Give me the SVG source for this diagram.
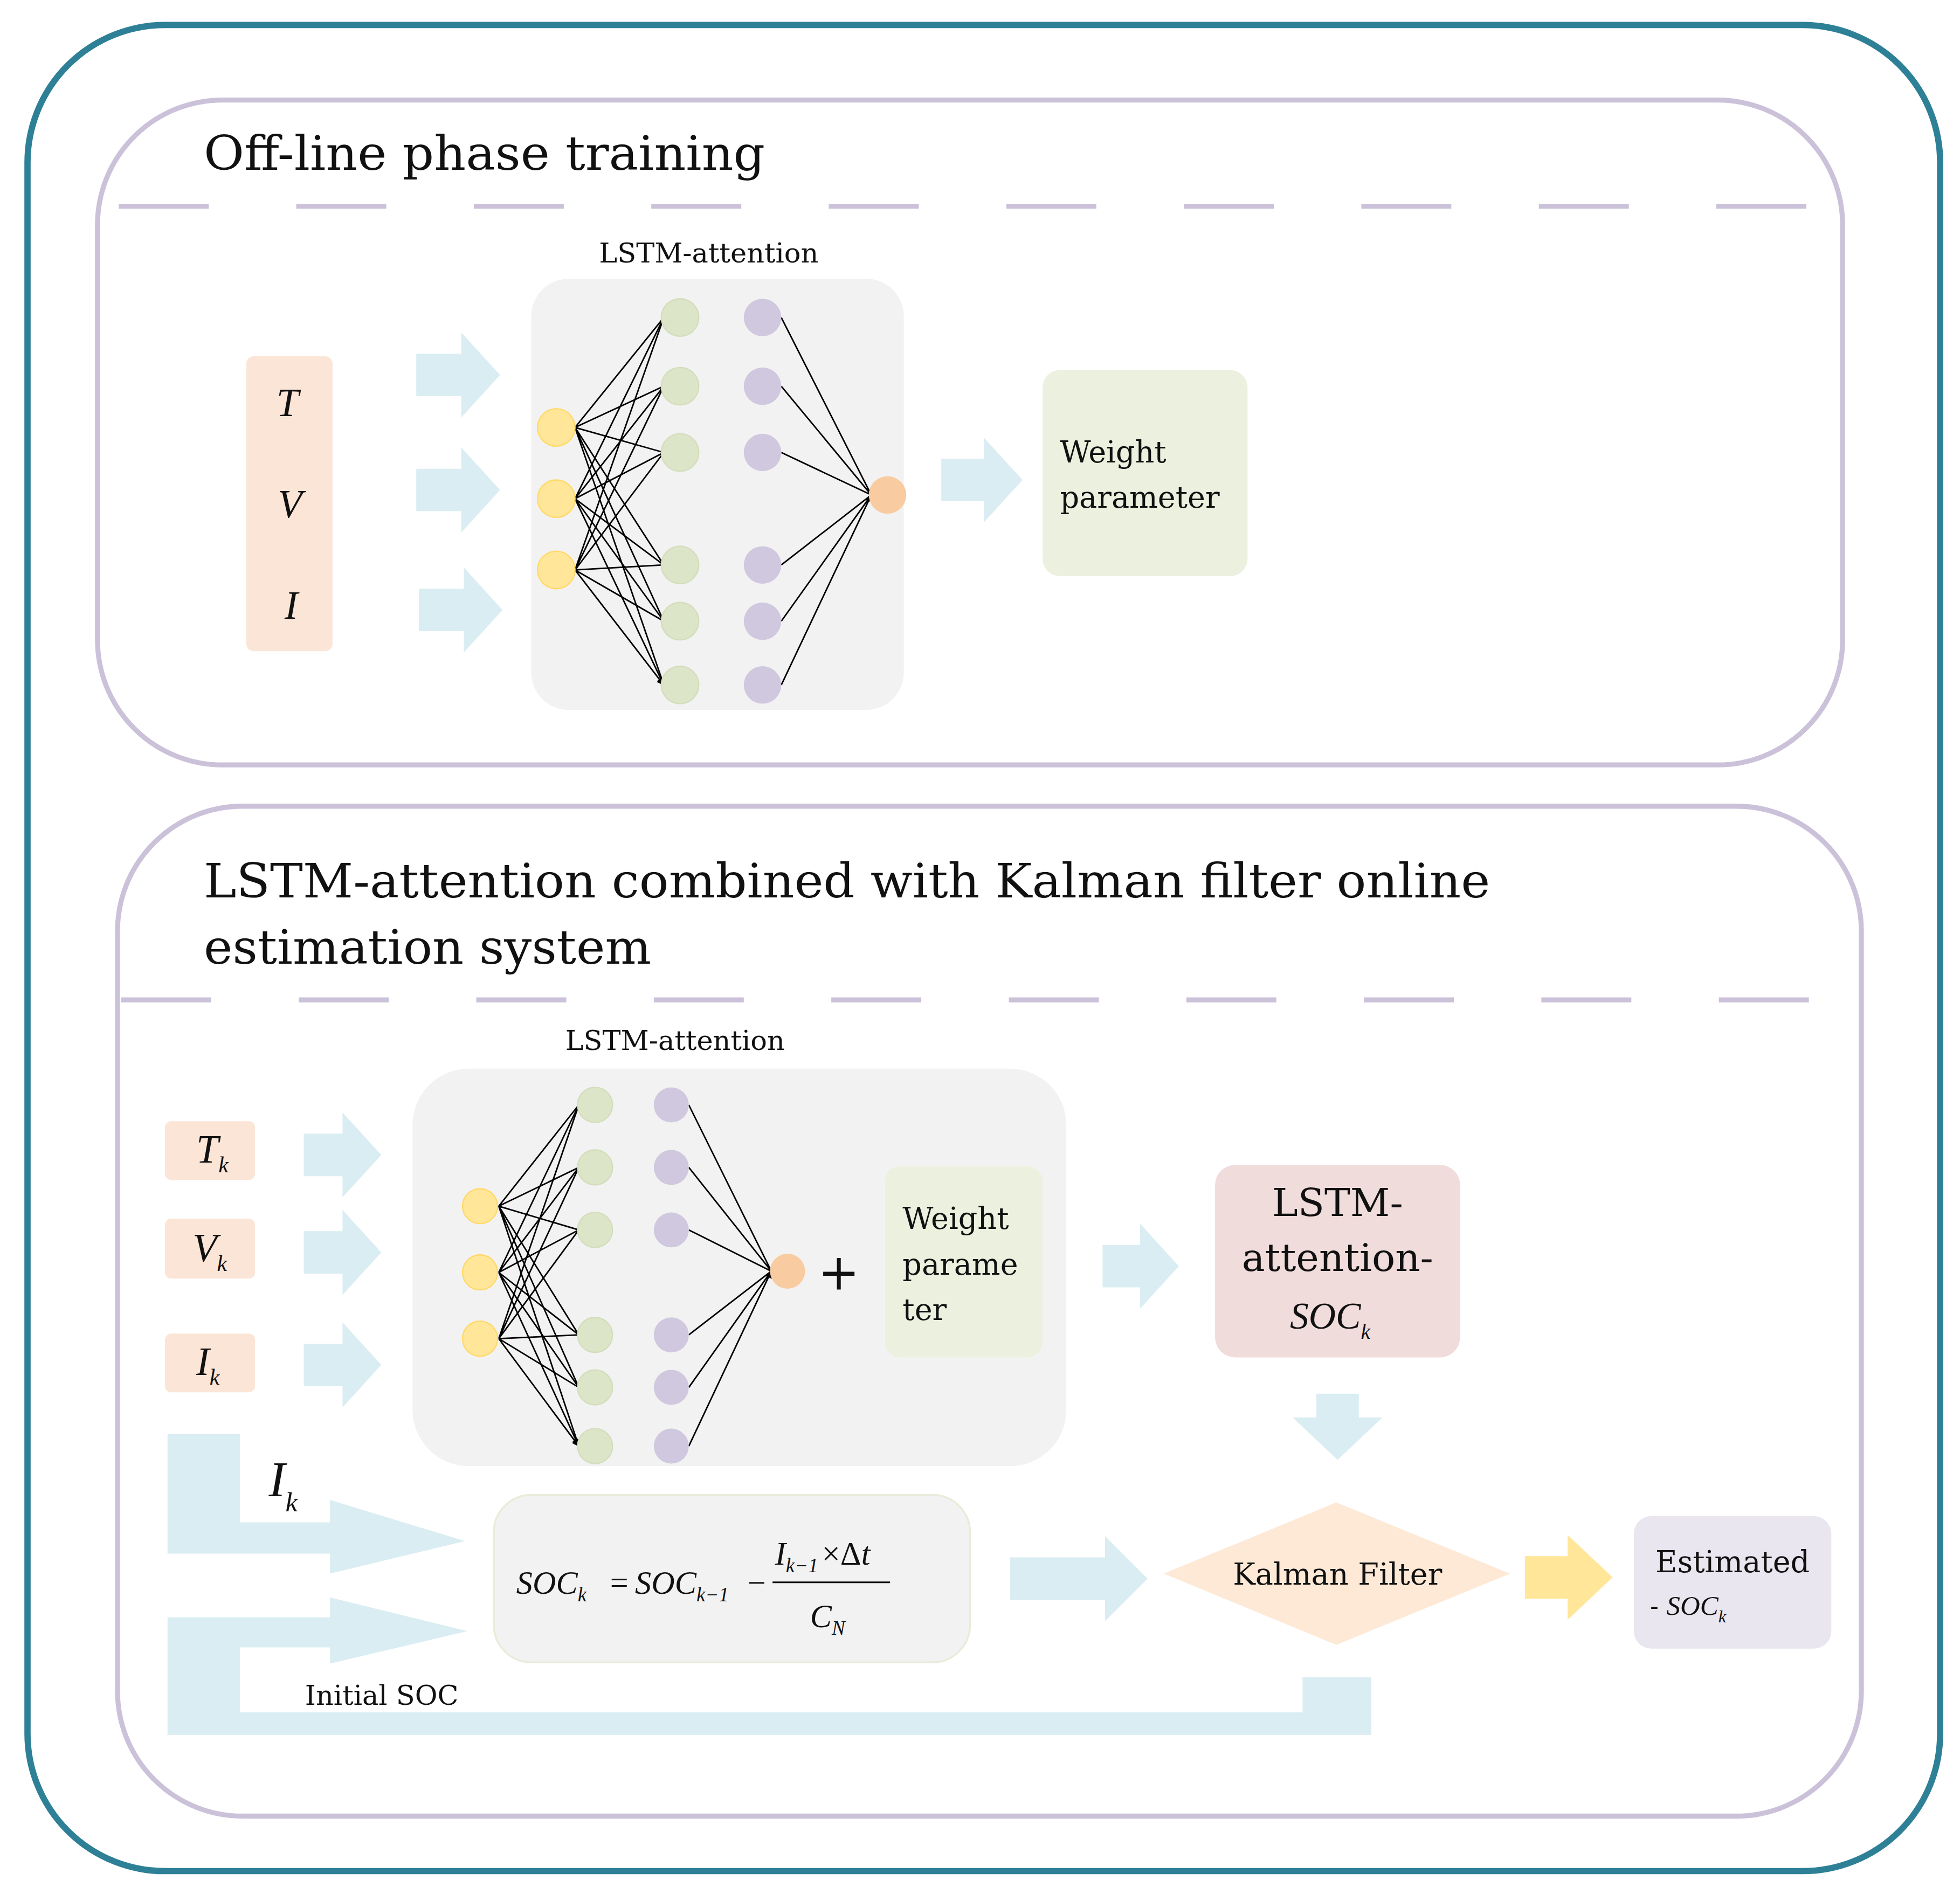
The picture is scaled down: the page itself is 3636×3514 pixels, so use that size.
<svg xmlns="http://www.w3.org/2000/svg" width="3636" height="3514" viewBox="0 0 3636 3514">
<defs>
<marker id="ah" viewBox="0 0 10 10" refX="9" refY="5" markerWidth="5" markerHeight="5" orient="auto"><path d="M0,0L10,5L0,10z" fill="#000"/></marker>
<style>
.pn{fill:none;stroke:#cbc2da;stroke-width:4}
.ds{fill:none;stroke:#cbc2da;stroke-width:4;stroke-dasharray:72,70}
.ba{fill:#daedf2}
.t{font-family:"DejaVu Serif","Liberation Serif",serif;fill:#111}
.i{font-family:"Liberation Serif",serif;font-style:italic;fill:#111}
.y{fill:#ffe699;stroke:#ffd966;stroke-width:1}
.g{fill:#dde5c8;stroke:#d3ddbb;stroke-width:1}
.p{fill:#d0c8de}
.o{fill:#f8cba0}
.ln{stroke:#000;stroke-width:1.2;fill:none}
</style>
</defs>
<rect width="3636" height="3514" fill="#fff"/>
<g transform="scale(2.319)">
<rect id="outer" x="22" y="20" width="1530" height="1477" rx="110" fill="none" stroke="#2e8096" stroke-width="5"/>
<g id="top-panel">
<rect class="pn" x="78" y="80" width="1396" height="532" rx="100"/>
<path class="ds" d="M95,165H1465"/>
<text class="t" x="163" y="136" font-size="38" textLength="449" lengthAdjust="spacingAndGlyphs">Off-line phase training</text>
<text class="t" x="567" y="210" font-size="22" text-anchor="middle">LSTM-attention</text>
<rect x="425" y="223" width="298" height="345" rx="30" fill="#f2f2f2"/>
</g>
<g id="top-inputs">
<rect x="197" y="285" width="69" height="236" rx="6" fill="#fbe5d6"/>
<text class="i" x="230" y="333" font-size="32" text-anchor="middle">T</text>
<text class="i" x="232" y="414" font-size="32" text-anchor="middle">V</text>
<text class="i" x="233" y="495" font-size="32" text-anchor="middle">I</text>
</g>
<g id="top-arrows">
<path class="ba" d="M333,283H369V266L400,300L369,334V317H333z"/>
<path class="ba" d="M333,375H369V358L400,392L369,426V409H333z"/>
<path class="ba" d="M335,471H371V454L402,488L371,522V505H335z"/>
<path class="ba" d="M753,367H787V350L818,384L787,418V401H753z"/>
</g>
<g id="top-net">
<g class="ln">
<path marker-end="url(#ah)" d="M460,342L531,254M460,342L531,309M460,342L531,362M460,342L531,452M460,342L531,497M460,342L531,548"/>
<path marker-end="url(#ah)" d="M460,399L531,254M460,399L531,309M460,399L531,362M460,399L531,452M460,399L531,497M460,399L531,548"/>
<path marker-end="url(#ah)" d="M460,456L531,254M460,456L531,309M460,456L531,362M460,456L531,452M460,456L531,497M460,456L531,548"/>
<path marker-end="url(#ah)" d="M625,254L697,396M625,309L697,396M625,362L697,396M625,452L697,396M625,497L697,396M625,548L697,396"/>
</g>
<circle class="y" cx="445" cy="342" r="15"/><circle class="y" cx="445" cy="399" r="15"/><circle class="y" cx="445" cy="456" r="15"/>
<circle class="g" cx="544" cy="254" r="15"/><circle class="g" cx="544" cy="309" r="15"/><circle class="g" cx="544" cy="362" r="15"/><circle class="g" cx="544" cy="452" r="15"/><circle class="g" cx="544" cy="497" r="15"/><circle class="g" cx="544" cy="548" r="15"/>
<circle class="p" cx="610" cy="254" r="15"/><circle class="p" cx="610" cy="309" r="15"/><circle class="p" cx="610" cy="362" r="15"/><circle class="p" cx="610" cy="452" r="15"/><circle class="p" cx="610" cy="497" r="15"/><circle class="p" cx="610" cy="548" r="15"/>
<circle class="o" cx="710" cy="396" r="15"/>
</g>
<g id="top-weight">
<rect x="834" y="296" width="164" height="165" rx="14" fill="#ebf1de"/>
<text class="t" x="848" y="370" font-size="24">Weight</text>
<text class="t" x="848" y="406" font-size="24">parameter</text>
</g>
<g id="bottom-panel">
<rect class="pn" x="94" y="645" width="1395" height="808" rx="100"/>
<path class="ds" d="M97,800H1472"/>
<text class="t" x="163" y="718" font-size="38" textLength="1029" lengthAdjust="spacingAndGlyphs">LSTM-attention combined with Kalman filter online</text>
<text class="t" x="163" y="771" font-size="38" textLength="358" lengthAdjust="spacingAndGlyphs">estimation system</text>
<text class="t" x="540" y="840" font-size="22" text-anchor="middle">LSTM-attention</text>
<rect x="330" y="855" width="523" height="318" rx="45" fill="#f2f2f2"/>
</g>
<g id="bottom-inputs">
<rect x="132" y="897" width="72" height="47" rx="5" fill="#fbe5d6"/>
<text class="i" x="157" y="930" font-size="32">T<tspan font-size="18" dy="8">k</tspan></text>
<rect x="132" y="975" width="72" height="48" rx="5" fill="#fbe5d6"/>
<text class="i" x="154" y="1009" font-size="32">V<tspan font-size="18" dy="8">k</tspan></text>
<rect x="132" y="1067" width="72" height="47" rx="5" fill="#fbe5d6"/>
<text class="i" x="157" y="1100" font-size="32">I<tspan font-size="18" dy="8">k</tspan></text>
</g>
<g id="bottom-arrows">
<path class="ba" d="M243,907H274V890L305,924L274,958V941H243z"/>
<path class="ba" d="M243,985H274V968L305,1002L274,1036V1019H243z"/>
<path class="ba" d="M243,1075H274V1058L305,1092L274,1126V1109H243z"/>
<path class="ba" d="M882,996H912V979L943,1013L912,1047V1030H882z"/>
<path class="ba" d="M1053,1115H1087V1134H1106L1070,1168L1034,1134H1053z"/>
<path class="ba" d="M808,1246H884V1229L918,1263L884,1297V1280H808z"/>
<path d="M1220,1245H1254V1228L1290,1262L1254,1296V1279H1220z" fill="#ffe699"/>
<path class="ba" d="M134,1147H192V1218H264V1200L372,1233L264,1259V1243H134z"/>
<path class="ba" d="M134,1294H264V1278L374,1305L264,1331V1318H192V1370H1042V1342H1097V1388H134z"/>
</g>
<g id="bottom-net">
<g class="ln">
<path marker-end="url(#ah)" d="M399,965L463,884M399,965L463,934M399,965L463,984M399,965L463,1068M399,965L463,1110M399,965L463,1157"/>
<path marker-end="url(#ah)" d="M399,1018L463,884M399,1018L463,934M399,1018L463,984M399,1018L463,1068M399,1018L463,1110M399,1018L463,1157"/>
<path marker-end="url(#ah)" d="M399,1071L463,884M399,1071L463,934M399,1071L463,984M399,1071L463,1068M399,1071L463,1110M399,1071L463,1157"/>
<path marker-end="url(#ah)" d="M551,884L617,1017M551,934L617,1017M551,984L617,1017M551,1068L617,1017M551,1110L617,1017M551,1157L617,1017"/>
</g>
<circle class="y" cx="384" cy="965" r="14"/><circle class="y" cx="384" cy="1018" r="14"/><circle class="y" cx="384" cy="1071" r="14"/>
<circle class="g" cx="476" cy="884" r="14"/><circle class="g" cx="476" cy="934" r="14"/><circle class="g" cx="476" cy="984" r="14"/><circle class="g" cx="476" cy="1068" r="14"/><circle class="g" cx="476" cy="1110" r="14"/><circle class="g" cx="476" cy="1157" r="14"/>
<circle class="p" cx="537" cy="884" r="14"/><circle class="p" cx="537" cy="934" r="14"/><circle class="p" cx="537" cy="984" r="14"/><circle class="p" cx="537" cy="1068" r="14"/><circle class="p" cx="537" cy="1110" r="14"/><circle class="p" cx="537" cy="1157" r="14"/>
<circle class="o" cx="630" cy="1017" r="14"/>
<text class="t" x="671" y="1032" font-size="40" text-anchor="middle">+</text>
</g>
<g id="bottom-weight">
<rect x="708" y="933" width="126" height="153" rx="12" fill="#ebf1de"/>
<text class="t" x="722" y="983" font-size="24">Weight</text>
<text class="t" x="722" y="1020" font-size="24">parame</text>
<text class="t" x="722" y="1056" font-size="24">ter</text>
</g>
<g id="lstm-soc">
<rect x="972" y="932" width="196" height="154" rx="16" fill="#f0dcdb"/>
<text class="t" x="1070" y="973" font-size="31" text-anchor="middle">LSTM-</text>
<text class="t" x="1070" y="1017" font-size="31" text-anchor="middle">attention-</text>
<text class="i" x="1064" y="1063" font-size="30" text-anchor="middle">SOC<tspan font-size="17" dy="8">k</tspan></text>
</g>
<g id="formula">
<rect x="395" y="1196" width="381" height="134" rx="30" fill="#f2f2f2" stroke="#e8ecd9" stroke-width="1.5"/>
<text class="i" x="413" y="1275" font-size="26">SOC<tspan font-size="16" dy="6">k</tspan><tspan font-style="normal" x="488" dy="-6">=</tspan><tspan x="508">SOC</tspan><tspan font-size="16" dy="6">k−1</tspan><tspan font-style="normal" x="598" dy="-6">−</tspan></text>
<path d="M618,1266H712" stroke="#000" stroke-width="1.3"/>
<text class="i" x="620" y="1252" font-size="26">I<tspan font-size="16" dy="6">k−1</tspan><tspan font-style="normal" dx="3" dy="-6">×Δ</tspan>t</text>
<text class="i" x="648" y="1302" font-size="26">C<tspan font-size="16" dy="6">N</tspan></text>
</g>
<g id="kalman">
<path d="M1069,1202L1208,1259L1069,1316L931,1259z" fill="#fde9d6"/>
<text class="t" x="1070" y="1268" font-size="24" text-anchor="middle">Kalman Filter</text>
</g>
<g id="estimated">
<rect x="1307" y="1213" width="158" height="106" rx="14" fill="#e9e6ef"/>
<text class="t" x="1386" y="1258" font-size="24" text-anchor="middle">Estimated</text>
<text class="t" x="1320" y="1292" font-size="20">-  <tspan class="i" font-size="22">SOC<tspan font-size="14" dy="6">k</tspan></tspan></text>
</g>
<g id="labels">
<text class="i" x="215" y="1197" font-size="40">I<tspan font-size="22" dy="12">k</tspan></text>
<text class="t" x="244" y="1364" font-size="22">Initial SOC</text>
</g>
</g>
</svg>
